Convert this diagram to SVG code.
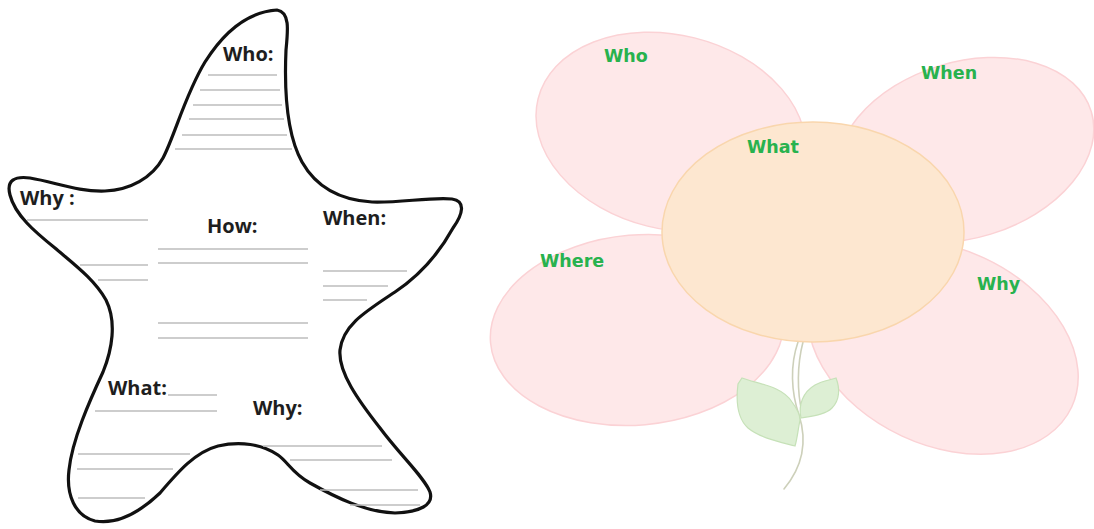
<svg xmlns="http://www.w3.org/2000/svg" width="1094" height="529" viewBox="0 0 1094 529">
  <style>
    .outline { fill: #ffffff; stroke: #111111; stroke-width: 3.2; stroke-linejoin: round; }
    .rule { stroke: #bcbcbc; stroke-width: 1.6; fill: none; }
    .star-label { font-family: "Open Sans", "Liberation Sans", sans-serif; font-weight: 700; font-size: 20px; fill: #1e1e1e; }
    .petal { fill: #fee8e9; stroke: #fbd2d5; stroke-width: 1.5; }
    .center { fill: #fde7d0; stroke: #f9d6ad; stroke-width: 1.5; }
    .leaf { fill: #ddefd4; stroke: #c6e1b8; stroke-width: 1.2; }
    .stem { fill: none; stroke: #cdd0ba; stroke-width: 1.6; stroke-linecap: round; }
    .flower-label { font-family: "DejaVu Sans", "Liberation Sans", sans-serif; font-weight: 700; font-size: 17.5px; fill: #28b24e; }
  </style>
  <rect width="1094" height="529" fill="#ffffff"/>

  <!-- Starfish organiser -->
  <g id="starfish">
    <path class="outline" d="M 277,10
      C 290,12 288,30 286,50
      C 284,95 287,135 302,162
      C 315,185 338,200 372,202
      C 400,203 430,197 452,199
      C 466,201 463,214 453,228
      C 442,248 425,272 395,292
      C 365,312 343,325 340,350
      C 338,372 358,400 380,428
      C 400,455 425,478 430,492
      C 434,505 420,512 395,513
      C 365,512 335,497 310,483
      C 292,473 288,462 278,455
      C 262,444 240,441 218,446
      C 195,452 178,472 160,493
      C 140,512 118,525 95,521
      C 75,516 66,495 69,470
      C 72,440 90,400 103,372
      C 112,350 117,322 106,300
      C 95,280 75,265 55,248
      C 35,232 15,215 10,195
      C 6,180 15,176 30,178
      C 55,182 78,192 105,191
      C 130,190 152,178 163,158
      C 175,135 185,95 205,62
      C 222,35 245,12 277,10 Z"/>
  </g>

  <g id="star-who">
    <text class="star-label" x="223" y="61">Who:</text>
    <line class="rule" x1="208" y1="75" x2="277" y2="75"/>
    <line class="rule" x1="200" y1="90" x2="280" y2="90"/>
    <line class="rule" x1="193" y1="105" x2="282" y2="105"/>
    <line class="rule" x1="189" y1="119" x2="284" y2="119"/>
    <line class="rule" x1="182" y1="135" x2="287" y2="135"/>
    <line class="rule" x1="175" y1="149" x2="292" y2="149"/>
  </g>

  <g id="star-why-left">
    <text class="star-label" x="20" y="205">Why :</text>
    <line class="rule" x1="27" y1="220" x2="148" y2="220"/>
    <line class="rule" x1="80" y1="265" x2="148" y2="265"/>
    <line class="rule" x1="98" y1="280" x2="148" y2="280"/>
  </g>

  <g id="star-how">
    <text class="star-label" x="207" y="233">How:</text>
    <line class="rule" x1="158" y1="249" x2="308" y2="249"/>
    <line class="rule" x1="158" y1="263" x2="308" y2="263"/>
    <line class="rule" x1="158" y1="323" x2="308" y2="323"/>
    <line class="rule" x1="158" y1="338" x2="308" y2="338"/>
  </g>

  <g id="star-when">
    <text class="star-label" x="323" y="225">When:</text>
    <line class="rule" x1="323" y1="271" x2="407" y2="271"/>
    <line class="rule" x1="323" y1="286" x2="388" y2="286"/>
    <line class="rule" x1="323" y1="300" x2="367" y2="300"/>
  </g>

  <g id="star-what">
    <text class="star-label" x="108" y="395">What:</text>
    <line class="rule" x1="168" y1="395" x2="217" y2="395"/>
    <line class="rule" x1="95" y1="411" x2="217" y2="411"/>
    <line class="rule" x1="78" y1="454" x2="190" y2="454"/>
    <line class="rule" x1="77" y1="469" x2="173" y2="469"/>
    <line class="rule" x1="78" y1="498" x2="145" y2="498"/>
  </g>

  <g id="star-why-right">
    <text class="star-label" x="253" y="415">Why:</text>
    <line class="rule" x1="263" y1="446" x2="382" y2="446"/>
    <line class="rule" x1="290" y1="460" x2="392" y2="460"/>
    <line class="rule" x1="320" y1="490" x2="418" y2="490"/>
    <line class="rule" x1="350" y1="505" x2="420" y2="505"/>
  </g>

  <!-- Flower organiser: petals, then stem and leaves, then the centre -->
  <g id="petal-who">
    <ellipse class="petal" cx="671" cy="132" rx="137" ry="97" transform="rotate(14 671 132)"/>
    <text class="flower-label" x="604" y="62">Who</text>
  </g>

  <g id="petal-when">
    <ellipse class="petal" cx="965" cy="150" rx="132" ry="88" transform="rotate(-17 965 150)"/>
    <text class="flower-label" x="921" y="79">When</text>
  </g>

  <g id="petal-where">
    <ellipse class="petal" cx="637" cy="330" rx="147" ry="95" transform="rotate(-5 637 330)"/>
    <text class="flower-label" x="540" y="267">Where</text>
  </g>

  <g id="petal-why">
    <ellipse class="petal" cx="943" cy="347" rx="142" ry="98" transform="rotate(25 943 347)"/>
    <text class="flower-label" x="977" y="290">Why</text>
  </g>

  <g id="flower-stem">
    <path class="stem" d="M 798,342 C 790,365 791,392 799,415 C 807,440 804,465 784,489"/>
    <path class="stem" d="M 803,342 C 797,365 797,392 802,412"/>
    <path class="leaf" d="M 742,378 C 758,384 782,386 792,402 C 798,410 800,416 800,420 C 798,430 797,440 795,446 C 780,442 760,438 748,428 C 737,418 736,400 738,384 Z"/>
    <path class="leaf" d="M 801,418 C 798,405 803,392 815,385 C 822,381 830,380 836,378 C 840,388 840,400 832,408 C 825,415 812,416 801,418 Z"/>
  </g>

  <g id="flower-center">
    <ellipse class="center" cx="813" cy="232" rx="151" ry="110"/>
    <text class="flower-label" x="747" y="153">What</text>
  </g>
</svg>
